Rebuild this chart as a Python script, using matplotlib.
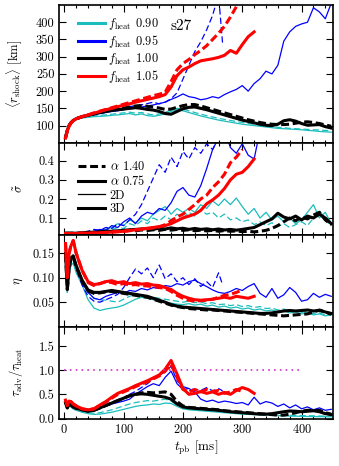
import matplotlib
matplotlib.use("Agg")
import matplotlib.pyplot as plt
from matplotlib.ticker import MultipleLocator, FixedLocator, FormatStrFormatter
from matplotlib.lines import Line2D

plt.rcParams.update({
    "font.family": "serif",
    "font.serif": ["cmr10", "DejaVu Serif"],
    "mathtext.fontset": "cm",
    "axes.formatter.use_mathtext": True,
    "font.size": 8.7,
    "axes.unicode_minus": False,
})

# ---------------- time grids (ms) ----------------
t_early = [2, 5, 8, 11, 15, 20]
t_full = t_early + list(range(30, 451, 10))          # 2D f0.90, 2D f0.95 (alpha 0.75), 3D f1.00
t_bd = t_early + list(range(30, 261, 10)) + [267]    # 2D f0.95 alpha 1.40
t_rd = t_early + list(range(30, 301, 10))            # 3D f1.05 alpha 1.40
t_rs = t_early + list(range(30, 321, 10))            # 3D f1.05 alpha 0.75

# ---------------- panel 1: <r_shock> [km] ----------------
r_c_sol = [66, 86, 99, 107, 114, 118, 122, 124, 126, 127, 128, 130, 131, 133,
           135, 131, 134, 129, 127, 130, 134, 141, 146, 143, 138, 133, 128, 124, 120,
           116, 113, 110, 107, 104, 102, 100, 98, 96, 94, 92, 91, 90, 89, 88,
           86, 85, 83, 82, 81]
r_c_dash = [66, 86, 99, 107, 114, 119, 123, 126, 128, 130, 131, 133, 135, 137,
            139, 136, 138, 134, 131, 134, 138, 146, 150, 148, 143, 138, 133, 129, 125,
            121, 118, 115, 112, 109, 106, 104, 101, 99, 97, 95, 94, 92, 91, 90,
            89, 88, 87, 86, 85]
r_b_sol = [66, 86, 99, 107, 114, 119, 124, 128, 132, 135, 138, 141, 143, 146,
           149, 151, 154, 157, 160, 164, 168, 176, 183, 192, 184, 181, 175, 178, 184,
           180, 190, 198, 205, 216, 200, 222, 236, 258, 250, 275, 345, 372, 388, 395,
           400, 442, 430, 410, 455]
r_b_dash = [66, 86, 99, 107, 114, 119, 124, 128, 132, 136, 139, 143, 147, 151,
            155, 158, 160, 164, 168, 163, 168, 178, 195, 235, 275, 315, 343, 378, 420,
            480, 335]
r_k_sol = [66, 86, 100, 108, 115, 120, 126, 130, 134, 138, 141, 144, 146, 148,
           150, 152, 150, 147, 145, 141, 135, 133, 141, 149, 153, 154, 150, 146, 141,
           136, 131, 126, 121, 116, 112, 108, 104, 101, 100, 104, 114, 117, 113, 106,
           101, 102, 103, 97, 93]
r_k_dash = [66, 86, 100, 108, 115, 120, 126, 130, 134, 138, 142, 145, 148, 151,
            154, 157, 158, 156, 154, 151, 147, 148, 153, 158, 161, 161, 157, 152, 147,
            142, 137, 132, 127, 122, 117, 113, 109, 106, 104, 103, 103, 104, 107, 110,
            111, 109, 106, 102, 98]
r_r_sol = [64, 85, 99, 107, 114, 120, 126, 131, 136, 141, 146, 150, 155, 159,
           163, 168, 172, 176, 180, 184, 190, 212, 245, 262, 270, 280, 288, 291, 294,
           298, 304, 318, 310, 335, 358, 372]
r_r_dash = [64, 85, 99, 107, 114, 120, 126, 131, 137, 142, 147, 152, 157, 162,
            167, 172, 177, 182, 187, 191, 197, 228, 262, 280, 292, 306, 318, 332, 350,
            368, 388, 415, 445, 480]

# ---------------- panel 2: sigma tilde ----------------
s_c_sol = [0.02, 0.02, 0.02, 0.02, 0.02, 0.02, 0.022, 0.025, 0.03, 0.035, 0.04, 0.05, 0.07, 0.06,
           0.09, 0.075, 0.1, 0.085, 0.12, 0.14, 0.16, 0.12, 0.15, 0.13, 0.15, 0.13, 0.17, 0.15, 0.19,
           0.165, 0.2, 0.17, 0.205, 0.16, 0.12, 0.15, 0.1, 0.13, 0.09, 0.11, 0.08, 0.1, 0.07, 0.09,
           0.13, 0.17, 0.1, 0.13, 0.07]
s_c_dash = [0.02, 0.02, 0.02, 0.02, 0.02, 0.02, 0.02, 0.022, 0.025, 0.03, 0.035, 0.04, 0.05, 0.045,
            0.07, 0.06, 0.085, 0.07, 0.1, 0.085, 0.11, 0.09, 0.12, 0.1, 0.13, 0.11, 0.14, 0.12, 0.13,
            0.1, 0.12, 0.09, 0.1, 0.08, 0.09, 0.065, 0.08, 0.06, 0.075, 0.055, 0.07, 0.05, 0.065, 0.08,
            0.06, 0.1, 0.14, 0.09, 0.06]
s_b_sol = [0.02, 0.02, 0.02, 0.02, 0.02, 0.02, 0.022, 0.025, 0.03, 0.04, 0.035, 0.06, 0.05, 0.08,
           0.1, 0.07, 0.11, 0.13, 0.12, 0.15, 0.14, 0.18, 0.24, 0.26, 0.22, 0.21, 0.27, 0.36, 0.46,
           0.52, 0.56, 0.47, 0.44, 0.49, 0.43, 0.41, 0.56, 0.6, 0.62, 0.6, 0.62, 0.6, 0.62, 0.6,
           0.62, 0.6, 0.62, 0.6, 0.62]
s_b_dash = [0.02, 0.02, 0.02, 0.02, 0.02, 0.02, 0.022, 0.03, 0.04, 0.035, 0.05, 0.045, 0.07, 0.06,
            0.09, 0.12, 0.17, 0.24, 0.31, 0.38, 0.34, 0.42, 0.37, 0.45, 0.41, 0.47, 0.44, 0.49, 0.46,
            0.52, 0.55]
s_k_sol = [0.02, 0.02, 0.02, 0.02, 0.02, 0.02, 0.022, 0.025, 0.025, 0.028, 0.03, 0.03, 0.032, 0.035,
           0.038, 0.04, 0.042, 0.045, 0.04, 0.047, 0.042, 0.048, 0.043, 0.046, 0.04, 0.045, 0.04, 0.043, 0.038,
           0.042, 0.037, 0.04, 0.036, 0.04, 0.045, 0.05, 0.065, 0.08, 0.095, 0.125, 0.105, 0.095, 0.11, 0.09,
           0.11, 0.1, 0.12, 0.1, 0.07]
s_k_dash = [0.02, 0.02, 0.02, 0.02, 0.02, 0.02, 0.02, 0.022, 0.024, 0.026, 0.028, 0.03, 0.03, 0.032,
            0.035, 0.033, 0.037, 0.034, 0.038, 0.035, 0.04, 0.036, 0.04, 0.035, 0.038, 0.033, 0.036, 0.032, 0.035,
            0.03, 0.034, 0.03, 0.032, 0.028, 0.03, 0.027, 0.03, 0.035, 0.045, 0.06, 0.08, 0.1, 0.085, 0.105,
            0.095, 0.115, 0.13, 0.09, 0.065]
s_r_sol = [0.018, 0.018, 0.018, 0.018, 0.018, 0.018, 0.02, 0.02, 0.021, 0.022, 0.024, 0.026, 0.028, 0.03,
           0.034, 0.038, 0.042, 0.046, 0.05, 0.055, 0.06, 0.07, 0.085, 0.1, 0.11, 0.12, 0.14, 0.175, 0.195,
           0.22, 0.255, 0.3, 0.33, 0.34, 0.37, 0.41]
s_r_dash = [0.018, 0.018, 0.018, 0.018, 0.018, 0.018, 0.02, 0.02, 0.021, 0.022, 0.024, 0.026, 0.028, 0.03,
            0.033, 0.036, 0.04, 0.044, 0.048, 0.053, 0.065, 0.085, 0.105, 0.12, 0.145, 0.17, 0.2, 0.22, 0.26,
            0.29, 0.33, 0.39, 0.42, 0.46]

# ---------------- panel 3: eta ----------------
e_c_sol = [0.14, 0.07, 0.11, 0.125, 0.13, 0.11, 0.085, 0.055, 0.038, 0.033, 0.036, 0.038, 0.04, 0.044,
           0.05, 0.056, 0.06, 0.058, 0.055, 0.052, 0.05, 0.048, 0.046, 0.045, 0.047, 0.044, 0.046, 0.042, 0.044,
           0.04, 0.042, 0.038, 0.04, 0.036, 0.038, 0.034, 0.036, 0.032, 0.034, 0.03, 0.032, 0.028, 0.03, 0.026,
           0.028, 0.024, 0.026, 0.022, 0.024]
e_c_dash = [0.14, 0.07, 0.11, 0.125, 0.13, 0.115, 0.09, 0.07, 0.058, 0.055, 0.054, 0.052, 0.05, 0.056,
            0.062, 0.066, 0.064, 0.062, 0.06, 0.058, 0.056, 0.054, 0.052, 0.05, 0.052, 0.049, 0.05, 0.047, 0.049,
            0.045, 0.046, 0.043, 0.045, 0.041, 0.043, 0.039, 0.041, 0.037, 0.038, 0.034, 0.036, 0.031, 0.033, 0.029,
            0.031, 0.027, 0.028, 0.024, 0.025]
e_b_sol = [0.15, 0.08, 0.125, 0.14, 0.145, 0.125, 0.09, 0.07, 0.058, 0.055, 0.062, 0.066, 0.07, 0.068,
           0.074, 0.072, 0.078, 0.075, 0.08, 0.078, 0.084, 0.082, 0.088, 0.085, 0.092, 0.095, 0.088, 0.082, 0.075,
           0.07, 0.068, 0.072, 0.078, 0.074, 0.082, 0.088, 0.068, 0.06, 0.078, 0.058, 0.065, 0.08, 0.07, 0.052,
           0.055, 0.068, 0.06, 0.066, 0.062]
e_b_dash = [0.15, 0.08, 0.125, 0.14, 0.145, 0.12, 0.085, 0.062, 0.052, 0.05, 0.055, 0.06, 0.066, 0.08,
            0.1, 0.118, 0.108, 0.12, 0.1, 0.126, 0.098, 0.108, 0.092, 0.1, 0.086, 0.098, 0.082, 0.092, 0.08,
            0.11, 0.085]
e_k_sol = [0.15, 0.076, 0.12, 0.14, 0.145, 0.125, 0.095, 0.075, 0.07, 0.07, 0.072, 0.074, 0.072, 0.07,
           0.068, 0.066, 0.064, 0.062, 0.058, 0.054, 0.05, 0.045, 0.042, 0.04, 0.039, 0.038, 0.037, 0.036, 0.035,
           0.034, 0.033, 0.032, 0.031, 0.03, 0.029, 0.028, 0.027, 0.027, 0.028, 0.03, 0.032, 0.033, 0.032, 0.033,
           0.034, 0.032, 0.033, 0.03, 0.027]
e_k_dash = [0.148, 0.076, 0.118, 0.138, 0.142, 0.122, 0.092, 0.073, 0.068, 0.069, 0.071, 0.072, 0.07, 0.068,
            0.066, 0.064, 0.062, 0.06, 0.056, 0.052, 0.048, 0.044, 0.041, 0.039, 0.037, 0.036, 0.035, 0.034, 0.034,
            0.033, 0.032, 0.031, 0.03, 0.029, 0.028, 0.027, 0.026, 0.025, 0.024, 0.023, 0.022, 0.023, 0.024, 0.025,
            0.026, 0.03, 0.034, 0.03, 0.025]
e_r_sol = [0.17, 0.1, 0.15, 0.165, 0.176, 0.15, 0.115, 0.092, 0.086, 0.088, 0.092, 0.094, 0.09, 0.092,
           0.088, 0.09, 0.087, 0.088, 0.085, 0.084, 0.08, 0.076, 0.068, 0.062, 0.058, 0.055, 0.054, 0.055, 0.056,
           0.058, 0.06, 0.058, 0.062, 0.06, 0.058, 0.062]
e_r_dash = [0.17, 0.1, 0.15, 0.165, 0.176, 0.15, 0.115, 0.09, 0.084, 0.088, 0.092, 0.09, 0.086, 0.088,
            0.085, 0.086, 0.084, 0.083, 0.082, 0.08, 0.078, 0.072, 0.064, 0.058, 0.054, 0.052, 0.053, 0.054, 0.056,
            0.06, 0.064, 0.066, 0.07, 0.075]

# ---------------- panel 4: tau_adv / tau_heat ----------------
a_c_sol = [0.3, 0.22, 0.27, 0.24, 0.2, 0.17, 0.13, 0.1, 0.085, 0.09, 0.11, 0.13, 0.16, 0.19,
           0.22, 0.25, 0.27, 0.28, 0.3, 0.29, 0.32, 0.31, 0.25, 0.2, 0.18, 0.17, 0.16, 0.15, 0.14,
           0.13, 0.12, 0.11, 0.1, 0.09, 0.085, 0.08, 0.075, 0.07, 0.065, 0.06, 0.055, 0.05, 0.048, 0.045,
           0.042, 0.04, 0.038, 0.036, 0.034]
a_c_dash = [0.3, 0.22, 0.27, 0.24, 0.2, 0.17, 0.14, 0.12, 0.11, 0.12, 0.15, 0.18, 0.22, 0.26,
            0.3, 0.33, 0.35, 0.37, 0.36, 0.38, 0.4, 0.36, 0.28, 0.22, 0.2, 0.19, 0.18, 0.17, 0.16,
            0.15, 0.14, 0.13, 0.12, 0.11, 0.1, 0.095, 0.09, 0.085, 0.08, 0.075, 0.07, 0.068, 0.065, 0.06,
            0.058, 0.055, 0.052, 0.05, 0.048]
a_b_sol = [0.35, 0.25, 0.32, 0.3, 0.25, 0.22, 0.18, 0.15, 0.17, 0.22, 0.25, 0.3, 0.33, 0.36,
           0.4, 0.5, 0.58, 0.66, 0.72, 0.68, 0.85, 0.98, 0.72, 0.6, 0.62, 0.55, 0.4, 0.35, 0.38,
           0.33, 0.36, 0.34, 0.31, 0.33, 0.28, 0.44, 0.3, 0.35, 0.32, 0.25, 0.3, 0.22, 0.28, 0.2,
           0.24, 0.18, 0.22, 0.17, 0.19]
a_b_dash = [0.35, 0.25, 0.32, 0.3, 0.25, 0.22, 0.18, 0.15, 0.16, 0.2, 0.26, 0.32, 0.36, 0.42,
            0.5, 0.56, 0.64, 0.72, 0.82, 0.9, 0.96, 1.08, 0.78, 0.66, 0.62, 0.6, 0.58, 0.64, 0.57,
            0.62, 0.57]
a_k_sol = [0.33, 0.22, 0.3, 0.28, 0.24, 0.21, 0.18, 0.15, 0.17, 0.22, 0.27, 0.32, 0.37, 0.42,
           0.47, 0.5, 0.51, 0.5, 0.48, 0.46, 0.44, 0.4, 0.3, 0.24, 0.22, 0.21, 0.2, 0.19, 0.18,
           0.17, 0.155, 0.14, 0.13, 0.12, 0.11, 0.1, 0.09, 0.09, 0.1, 0.12, 0.14, 0.155, 0.15, 0.14,
           0.15, 0.16, 0.14, 0.1, 0.08]
a_k_dash = [0.33, 0.22, 0.3, 0.28, 0.24, 0.21, 0.18, 0.15, 0.17, 0.22, 0.27, 0.32, 0.37, 0.42,
            0.47, 0.5, 0.53, 0.54, 0.53, 0.54, 0.55, 0.5, 0.35, 0.26, 0.23, 0.22, 0.21, 0.2, 0.19,
            0.18, 0.16, 0.15, 0.14, 0.13, 0.12, 0.11, 0.1, 0.09, 0.08, 0.07, 0.07, 0.09, 0.12, 0.15,
            0.17, 0.16, 0.17, 0.12, 0.09]
a_r_sol = [0.38, 0.27, 0.36, 0.35, 0.3, 0.26, 0.2, 0.18, 0.2, 0.28, 0.35, 0.44, 0.52, 0.57,
           0.62, 0.68, 0.73, 0.78, 0.84, 0.9, 1.02, 1.2, 0.92, 0.62, 0.5, 0.52, 0.56, 0.52, 0.55,
           0.5, 0.54, 0.5, 0.58, 0.64, 0.6, 0.52]
a_r_dash = [0.38, 0.27, 0.36, 0.35, 0.3, 0.26, 0.2, 0.18, 0.2, 0.27, 0.34, 0.42, 0.5, 0.55,
            0.6, 0.66, 0.71, 0.76, 0.82, 0.88, 0.98, 1.12, 0.85, 0.6, 0.55, 0.6, 0.55, 0.6, 0.56,
            0.58, 0.52, 0.55, 0.6, 0.56]
thresh_t = [0, 400]
thresh_v = [1.0, 1.0]

# ---------------- labels ----------------
fheat_labels = ["0.90", "0.95", "1.00", "1.05"]
alpha_labels = ["1.40", "0.75"]
dim_labels = ["2D", "3D"]
model_name = "s27"

# ---------------- styles ----------------
C_CYAN = "#1cbdbd"
C_BLUE = "#0000ff"
C_BLACK = "#000000"
C_RED = "#ff0000"
LW_THIN = 0.9
LW_THICK = 2.2
DASH_THIN = (0, (5, 2.5))
DASH_THICK = (0, (2.6, 1.2))

fig = plt.figure(figsize=(3.39, 4.66), dpi=100)
gs = fig.add_gridspec(4, 1, height_ratios=[1.5, 1, 1, 1], hspace=0,
                      left=59.3 / 339, right=333 / 339,
                      top=1 - 5 / 466, bottom=1 - 418.5 / 466)
axes = [fig.add_subplot(gs[i]) for i in range(4)]

panels = [
    (r_c_dash, r_c_sol, r_b_dash, r_b_sol, r_k_dash, r_k_sol, r_r_dash, r_r_sol),
    (s_c_dash, s_c_sol, s_b_dash, s_b_sol, s_k_dash, s_k_sol, s_r_dash, s_r_sol),
    (e_c_dash, e_c_sol, e_b_dash, e_b_sol, e_k_dash, e_k_sol, e_r_dash, e_r_sol),
    (a_c_dash, a_c_sol, a_b_dash, a_b_sol, a_k_dash, a_k_sol, a_r_dash, a_r_sol),
]

for ax, (cd, cs, bd, bs, kd, ks, rd, rs) in zip(axes, panels):
    ax.plot(t_full, cd, color=C_CYAN, lw=LW_THIN, ls=DASH_THIN)
    ax.plot(t_full, cs, color=C_CYAN, lw=LW_THIN, ls="-")
    ax.plot(t_bd, bd, color=C_BLUE, lw=LW_THIN, ls=DASH_THIN)
    ax.plot(t_full, bs, color=C_BLUE, lw=LW_THIN, ls="-")
    ax.plot(t_full, kd, color=C_BLACK, lw=LW_THICK, ls=DASH_THICK)
    ax.plot(t_full, ks, color=C_BLACK, lw=LW_THICK, ls="-")
    ax.plot(t_rd, rd, color=C_RED, lw=LW_THICK, ls=DASH_THICK)
    ax.plot(t_rs, rs, color=C_RED, lw=LW_THICK, ls="-")

axes[3].plot(thresh_t, thresh_v, color="#cc33cc", lw=1.2, ls=(0, (1, 2.5)))

ylims = [(50, 450), (0.012, 0.495), (0.0, 0.188), (0.0, 1.9)]
yticks = [[100, 150, 200, 250, 300, 350, 400], [0.1, 0.2, 0.3, 0.4],
          [0.05, 0.10, 0.15], [0.0, 0.5, 1.0, 1.5]]
yfmts = ["%d", "%.1f", "%.2f", "%.1f"]
ylabels = [r"$\langle r_{\rm shock}\rangle$ [km]", r"$\tilde{\sigma}$",
           r"$\eta$", r"$\tau_{\rm adv}/\tau_{\rm heat}$"]

for i, ax in enumerate(axes):
    ax.set_xlim(-8.5, 453)
    ax.set_ylim(*ylims[i])
    ax.yaxis.set_major_locator(FixedLocator(yticks[i]))
    ax.yaxis.set_major_formatter(FormatStrFormatter(yfmts[i]))
    ax.xaxis.set_major_locator(MultipleLocator(100))
    ax.xaxis.set_minor_locator(MultipleLocator(20))
    ax.tick_params(which="both", direction="in", top=True, right=True)
    ax.tick_params(which="major", length=5, width=0.8, labelsize=8.9, pad=3.5)
    ax.tick_params(which="minor", length=2.5, width=0.8)
    for sp in ax.spines.values():
        sp.set_linewidth(1.2)
    ax.set_ylabel(ylabels[i], fontsize=9)
    ax.yaxis.set_label_coords(-0.125, 0.5)
    if i < 3:
        ax.tick_params(labelbottom=False)

axes[3].set_xlabel(r"$t_{\rm pb}$ [ms]", fontsize=9.5, labelpad=1.5)

# legend 1: colours
colors = [C_CYAN, C_BLUE, C_BLACK, C_RED]
h1 = [Line2D([], [], color=c, lw=LW_THICK) for c in colors]
l1 = [r"$f_{\rm heat}$ " + s for s in fheat_labels]
axes[0].legend(h1, l1, loc="upper left", bbox_to_anchor=(0.06, 0.935), frameon=False,
               handlelength=2.2, handletextpad=0.2, labelspacing=0.08, borderpad=0.2,
               borderaxespad=0.0, fontsize=8.9)
axes[0].text(0.405, 0.845, model_name, transform=axes[0].transAxes, fontsize=11,
             ha="left", va="center")

# legend 2: line styles
h2 = [Line2D([], [], color="k", lw=LW_THICK, ls=DASH_THICK),
      Line2D([], [], color="k", lw=LW_THICK, ls="-"),
      Line2D([], [], color="k", lw=LW_THIN, ls="-"),
      Line2D([], [], color="k", lw=LW_THICK, ls="-")]
l2 = [r"$\alpha$ " + alpha_labels[0], r"$\alpha$ " + alpha_labels[1], dim_labels[0], dim_labels[1]]
axes[1].legend(h2, l2, loc="upper left", bbox_to_anchor=(0.06, 0.84), frameon=False,
               handlelength=2.2, handletextpad=0.35, labelspacing=0.1, borderpad=0.2,
               borderaxespad=0.0, fontsize=8.9)

fig.savefig("out.png", dpi=100)
